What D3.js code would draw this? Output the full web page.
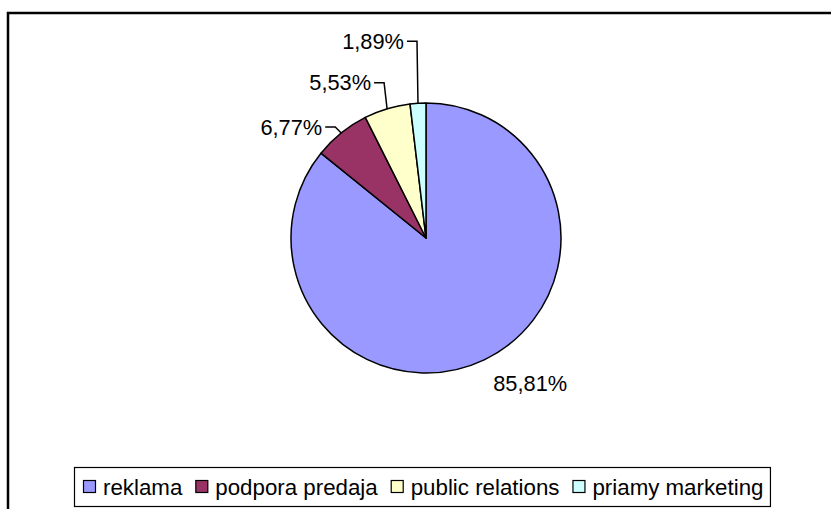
<!DOCTYPE html>
<html>
<head>
  <meta charset="UTF-8">
  <style>
    body { margin: 0; background: #fff; }
    svg { display: block; }
    text { font-family: "Liberation Sans", Arial, sans-serif; fill: #000; }
  </style>
</head>
<body>
  <script src="https://d3js.org/d3.v7.min.js"></script>
  <script>
    var categories = ['reklama', 'podpora predaja', 'public relations', 'priamy marketing'];
    var values = [85.81, 6.77, 5.53, 1.89];
    var colors = ['#9999FF', '#993366', '#FFFFCC', '#CCFFFF'];

    var W = 831, H = 509;
    var cx = 426, cy = 238, r = 135;
    // where each label sits, relative to the middle of its arc edge
    var labelNudge = [[46, 24], [-6, -6], [-3, -26], [-1, -62]];

    var svg = d3.select('body').append('svg')
      .attr('width', W).attr('height', H);

    // chart frame (runs off the right and bottom)
    svg.append('rect')
      .attr('x', 8).attr('y', 13)
      .attr('width', 860).attr('height', 540)
      .attr('fill', '#fff')
      .attr('stroke', '#000').attr('stroke-width', 2.5);

    var pie = d3.pie().sort(null).value(function(d) { return d; });
    var arcs = pie(values);
    var arc = d3.arc().innerRadius(0).outerRadius(r);

    var g = svg.append('g').attr('transform', 'translate(' + cx + ',' + cy + ')');

    g.selectAll('path.slice').data(arcs).enter().append('path')
      .attr('class', 'slice')
      .attr('d', arc)
      .attr('fill', function(d, i) { return colors[i]; })
      .attr('stroke', '#000').attr('stroke-width', 1.5)
      .attr('stroke-linejoin', 'round');

    var fmt = function(v) { return v.toFixed(2).replace('.', ',') + '%'; };

    arcs.forEach(function(d, i) {
      var a = (d.startAngle + d.endAngle) / 2;
      var px = r * Math.sin(a), py = -r * Math.cos(a);
      var ex = px + labelNudge[i][0], ey = py + labelNudge[i][1];
      if (i == 0) {
        g.append('text')
          .attr('x', ex).attr('y', ey).attr('dy', '0.35em')
          .attr('text-anchor', 'middle')
          .style('font-size', '21.8px')
          .text(fmt(values[i]));
        return;
      }
      g.append('path')
        .attr('d', 'M' + (ex - 10) + ',' + ey + 'L' + ex + ',' + ey + 'L' + px + ',' + py)
        .attr('fill', 'none').attr('stroke', '#000').attr('stroke-width', 1.5);
      g.append('text')
        .attr('x', ex - 13).attr('y', ey).attr('dy', '0.35em')
        .attr('text-anchor', 'end')
        .style('font-size', '21.8px')
        .text(fmt(values[i]));
    });

    // legend
    var leg = svg.append('g');
    var box = leg.append('rect')
      .attr('x', 74.5).attr('y', 467.5)
      .attr('height', 39)
      .attr('fill', '#fff').attr('stroke', '#000').attr('stroke-width', 1.2);

    var x = 83;
    categories.forEach(function(c, i) {
      leg.append('rect')
        .attr('x', x + 0.5).attr('y', 480.5)
        .attr('width', 12).attr('height', 12)
        .attr('fill', colors[i]).attr('stroke', '#000').attr('stroke-width', 1.2);
      var t = leg.append('text')
        .attr('x', x + 20).attr('y', 487).attr('dy', '0.35em')
        .style('font-size', '22.3px')
        .text(c);
      x = x + 20 + t.node().getComputedTextLength() + 13;
    });
    box.attr('width', x - 13 + 7 - 74.5);
  </script>
</body>
</html>
